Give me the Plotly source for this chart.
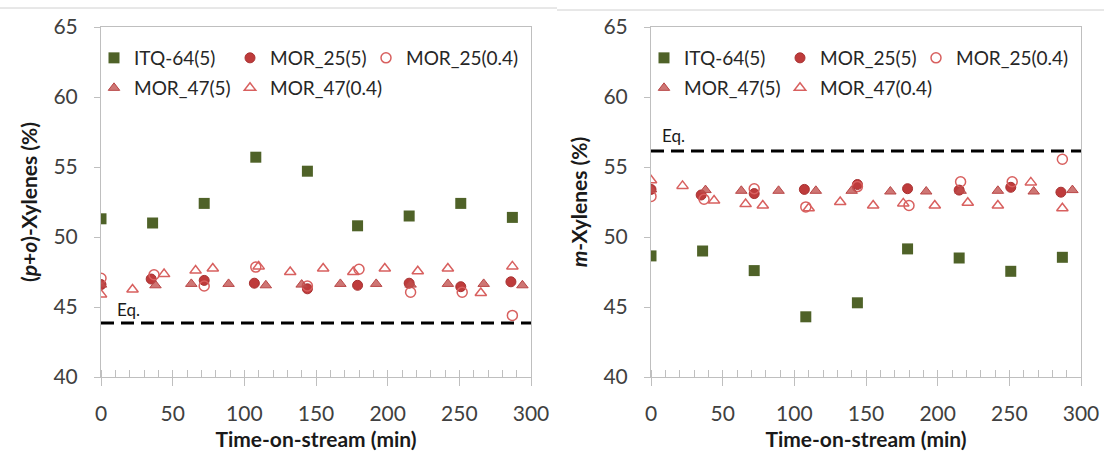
import plotly.graph_objects as go

# ---------------- data ----------------
# Left panel: (p+o)-Xylenes (%)
itq_t = [0, 36, 72, 108, 144, 179, 215, 251, 287]
itq_po = [51.3, 51.0, 52.4, 55.7, 54.7, 50.8, 51.5, 52.4, 51.4]

m25_5_t = [0, 35, 72, 107, 144, 179, 215, 251, 286]
m25_5_po = [46.6, 47.0, 46.9, 46.7, 46.3, 46.55, 46.7, 46.45, 46.8]

m25_04_t = [0, 37, 72, 108, 144, 180, 216, 252, 287]
m25_04_po = [47.05, 47.3, 46.5, 47.85, 46.5, 47.7, 46.05, 46.05, 44.4]

m47_5_t = [0, 38, 63, 89, 115, 140, 167, 192, 216, 242, 267, 294]
m47_5_po = [46.6, 46.55, 46.65, 46.65, 46.55, 46.6, 46.65, 46.65, 46.6, 46.65, 46.65, 46.55]

m47_04_t = [0, 22, 44, 66, 78, 110, 132, 155, 176, 198, 221, 242, 265, 287]
m47_04_po = [45.9, 46.25, 47.35, 47.6, 47.75, 47.9, 47.5, 47.75, 47.5, 47.75, 47.55, 47.75, 46.0, 47.9]

eq_po = 43.85

# Right panel: m-Xylenes (%)
itq_m = [48.65, 49.0, 47.6, 44.3, 45.3, 49.15, 48.5, 47.55, 48.55]
m25_5_m = [53.4, 53.0, 53.1, 53.4, 53.75, 53.45, 53.35, 53.55, 53.2]
m25_04_m = [52.9, 52.7, 53.45, 52.15, 53.6, 52.25, 53.95, 53.95, 55.55]
m47_5_m = [53.4, 53.35, 53.3, 53.3, 53.3, 53.3, 53.25, 53.25, 53.3, 53.3, 53.25, 53.35]
m47_04_m = [54.05, 53.65, 52.6, 52.35, 52.25, 52.05, 52.5, 52.25, 52.4, 52.25, 52.45, 52.25, 53.9, 52.05]

eq_m = 56.15

x_range = [0, 300]
y_range = [40, 65]
y_ticks = [40, 45, 50, 55, 60, 65]
x_ticks = [0, 50, 100, 150, 200, 250, 300]

names = ["ITQ-64(5)", "MOR_25(5)", "MOR_25(0.4)", "MOR_47(5)", "MOR_47(0.4)"]

# ---------------- styles ----------------
FONT = "Lato, 'Open Sans', sans-serif"
GREEN = "#4F6228"
RED_FILL = "#BE3B3B"
RED_LINE = "#A83232"
TRI_FILL = "rgba(192,80,77,0.78)"
TRI_LINE = "#B94646"
OPEN = "#D8605F"

styles = [
    dict(symbol="square", size=11, color=GREEN, line=dict(width=0)),
    dict(symbol="circle", size=10, color=RED_FILL, line=dict(width=1, color=RED_LINE)),
    dict(symbol="circle-open", size=10, color=OPEN, line=dict(width=1.5, color=OPEN)),
    dict(symbol="triangle-up", size=10, color=TRI_FILL, line=dict(width=1, color=TRI_LINE)),
    dict(symbol="triangle-up-open", size=10, color=OPEN, line=dict(width=1.5, color=OPEN)),
]

# legend row assignment (3 entries in first row, 2 in second)
left_legends = ["legend", "legend", "legend", "legend2", "legend2"]
right_legends = ["legend3", "legend3", "legend3", "legend4", "legend4"]
# text width of each legend entry (last of each row gets room for its label)
entry_widths = [91, 91, 140, 91, 140]

fig = go.Figure()

left_series = [(itq_t, itq_po), (m25_5_t, m25_5_po), (m25_04_t, m25_04_po),
               (m47_5_t, m47_5_po), (m47_04_t, m47_04_po)]
right_series = [(itq_t, itq_m), (m25_5_t, m25_5_m), (m25_04_t, m25_04_m),
                (m47_5_t, m47_5_m), (m47_04_t, m47_04_m)]

EQ_LINE = dict(color="black", width=3, dash="13px,7px")
fig.add_trace(go.Scatter(x=x_range, y=[eq_po, eq_po], mode="lines", line=EQ_LINE,
                         xaxis="x", yaxis="y", showlegend=False, hoverinfo="skip"))
fig.add_trace(go.Scatter(x=x_range, y=[eq_m, eq_m], mode="lines", line=EQ_LINE,
                         xaxis="x2", yaxis="y2", showlegend=False, hoverinfo="skip"))

for (t, v), nm, st, lg, ew in zip(left_series, names, styles, left_legends, entry_widths):
    fig.add_trace(go.Scatter(x=t, y=v, mode="markers", name=nm, marker=st,
                             xaxis="x", yaxis="y", legend=lg, legendwidth=ew))
for (t, v), nm, st, lg, ew in zip(right_series, names, styles, right_legends, entry_widths):
    fig.add_trace(go.Scatter(x=t, y=v, mode="markers", name=nm, marker=st,
                             xaxis="x2", yaxis="y2", legend=lg, legendwidth=ew))

W, H = 1104, 460
def px_x(p):
    return p / W
def px_y(p):
    return 1 - p / H

dom_y = [px_y(377), px_y(27)]
dom_x1 = [px_x(101), px_x(531)]
dom_x2 = [px_x(651), px_x(1081)]

AX_LINE = "#BFBFBF"
TICK_FONT = dict(family=FONT, size=21, color="#404040")
TITLE_FONT = dict(family=FONT, size=21, color="#1a1a1a")

def xaxis(domain, anchor):
    return dict(domain=domain, anchor=anchor, range=x_range, tickvals=x_ticks,
                automargin=False,
                showgrid=False, zeroline=False, showline=True, linecolor=AX_LINE,
                linewidth=1, mirror=True, ticks="outside", ticklen=8,
                tickcolor=AX_LINE, tickfont=TICK_FONT, ticklabelstandoff=10,
                minor=dict(dtick=10, ticks="inside", ticklen=7, tickcolor=AX_LINE, showgrid=False),
                title=dict(text="<b>Time-on-stream (min)</b>", font=TITLE_FONT, standoff=8))

def yaxis(domain, anchor, title):
    return dict(domain=domain, anchor=anchor, range=y_range, tickvals=y_ticks,
                automargin=False,
                showgrid=False, zeroline=False, showline=True, linecolor=AX_LINE,
                linewidth=1, mirror=True, ticks="outside", ticklen=6,
                tickcolor=AX_LINE, tickfont=TICK_FONT, ticklabelstandoff=12,
                title=dict(text=title, font=TITLE_FONT, standoff=10))

def overlay_x(over, anchor):
    return dict(overlaying=over, anchor=anchor, range=x_range, tickvals=x_ticks,
                showticklabels=False, ticks="inside", ticklen=8, tickcolor=AX_LINE,
                showgrid=False, zeroline=False, showline=False, automargin=False)

legend_common = dict(orientation="h", xanchor="left", yanchor="middle",
                     entrywidthmode="pixels",
                     font=dict(family=FONT, size=19, color="#262626"),
                     bgcolor="rgba(0,0,0,0)", borderwidth=0)

fig.update_layout(
    template="none",
    width=W, height=H,
    margin=dict(l=0, r=0, t=0, b=0),
    paper_bgcolor="white", plot_bgcolor="white",
    font=dict(family=FONT),
    xaxis=xaxis(dom_x1, "y"),
    yaxis=yaxis(dom_y, "x", "<b>(<i>p</i>+<i>o</i>)-Xylenes (%)</b>"),
    xaxis2=xaxis(dom_x2, "y2"),
    yaxis2=yaxis(dom_y, "x2", "<b><i>m</i>-Xylenes (%)</b>"),
    xaxis3=overlay_x("x", "y"),
    xaxis4=overlay_x("x2", "y2"),
    legend=dict(x=px_x(94), y=px_y(58), **legend_common),
    legend2=dict(x=px_x(94), y=px_y(88), **legend_common),
    legend3=dict(x=px_x(644), y=px_y(58), **legend_common),
    legend4=dict(x=px_x(644), y=px_y(88), **legend_common),
    showlegend=True,
)

EQ_FONT = dict(family=FONT, size=17, color="#1a1a1a")
fig.add_annotation(x=0, y=eq_po, xref="x", yref="y", text="Eq.", showarrow=False,
                   xanchor="left", yanchor="bottom", xshift=14, yshift=1, font=EQ_FONT)
fig.add_annotation(x=0, y=eq_m, xref="x2", yref="y2", text="Eq.", showarrow=False,
                   xanchor="left", yanchor="bottom", xshift=9, yshift=3, font=EQ_FONT)

# outer chart borders at top
fig.add_shape(type="line", xref="paper", yref="paper", x0=0, x1=px_x(557),
              y0=px_y(8), y1=px_y(8), line=dict(color="#D0D0D0", width=1))
fig.add_shape(type="line", xref="paper", yref="paper", x0=px_x(557), x1=1,
              y0=px_y(10), y1=px_y(10), line=dict(color="#D0D0D0", width=1))

fig.write_html("out.html", config={"displayModeBar": False},
               post_script="document.body.style.margin='0';document.body.style.overflow='hidden';")
